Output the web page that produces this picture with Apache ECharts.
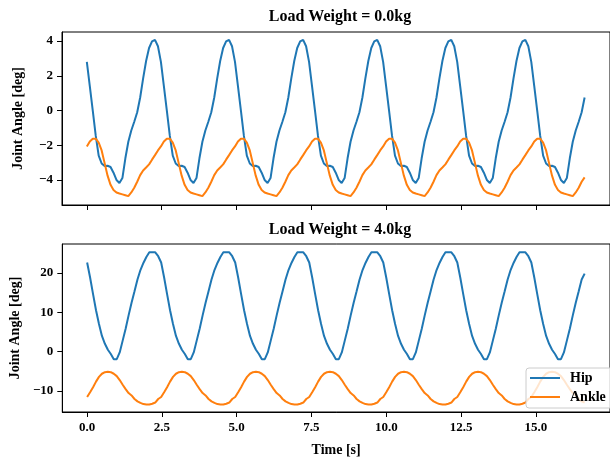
<!DOCTYPE html>
<html>
<head>
<meta charset="utf-8">
<script src="https://cdn.jsdelivr.net/npm/echarts@6/dist/echarts.min.js"></script>
<style>
  html, body { margin: 0; padding: 0; background: #ffffff; overflow: hidden; }
  #chart { width: 610px; height: 458px; }
</style>
</head>
<body>
<div id="chart"></div>
<script>
// Joint angles over time for two load conditions, sampled every SAMPLE_DT seconds.
const SAMPLE_DT = 0.099;

const HIP_0KG = [
  2.80, 1.40, 0.00, -1.45, -2.60, -3.05, -3.20, -3.18, -3.25, -3.58, -4.00, -4.17, -3.89, -2.75, -1.80, -1.15, -0.65, -0.10, 0.75, 1.85, 2.85, 3.60, 3.98, 4.07, 3.70,
  2.80, 1.40, 0.00, -1.45, -2.60, -3.05, -3.20, -3.18, -3.25, -3.58, -4.00, -4.17, -3.89, -2.75, -1.80, -1.15, -0.65, -0.10, 0.75, 1.85, 2.85, 3.60, 3.98, 4.07, 3.70,
  2.80, 1.40, 0.00, -1.45, -2.60, -3.05, -3.20, -3.18, -3.25, -3.58, -4.00, -4.17, -3.89, -2.75, -1.80, -1.15, -0.65, -0.10, 0.75, 1.85, 2.85, 3.60, 3.98, 4.07, 3.70,
  2.80, 1.40, 0.00, -1.45, -2.60, -3.05, -3.20, -3.18, -3.25, -3.58, -4.00, -4.17, -3.89, -2.75, -1.80, -1.15, -0.65, -0.10, 0.75, 1.85, 2.85, 3.60, 3.98, 4.07, 3.70,
  2.80, 1.40, 0.00, -1.45, -2.60, -3.05, -3.20, -3.18, -3.25, -3.58, -4.00, -4.17, -3.89, -2.75, -1.80, -1.15, -0.65, -0.10, 0.75, 1.85, 2.85, 3.60, 3.98, 4.07, 3.70,
  2.80, 1.40, 0.00, -1.45, -2.60, -3.05, -3.20, -3.18, -3.25, -3.58, -4.00, -4.17, -3.89, -2.75, -1.80, -1.15, -0.65, -0.10, 0.75, 1.85, 2.85, 3.60, 3.98, 4.07, 3.70,
  2.80, 1.40, 0.00, -1.45, -2.60, -3.05, -3.20, -3.18, -3.25, -3.58, -4.00, -4.17, -3.89, -2.75, -1.80, -1.15, -0.65, -0.10, 0.75
];

const ANKLE_0KG = [
  -2.07, -1.78, -1.62, -1.62, -1.85, -2.30, -3.03, -3.75, -4.28, -4.58, -4.72, -4.78, -4.83, -4.88, -4.93, -4.72, -4.45, -4.10, -3.72, -3.45, -3.28, -3.10, -2.83, -2.57, -2.30,
  -2.07, -1.78, -1.62, -1.62, -1.85, -2.30, -3.03, -3.75, -4.28, -4.58, -4.72, -4.78, -4.83, -4.88, -4.93, -4.72, -4.45, -4.10, -3.72, -3.45, -3.28, -3.10, -2.83, -2.57, -2.30,
  -2.07, -1.78, -1.62, -1.62, -1.85, -2.30, -3.03, -3.75, -4.28, -4.58, -4.72, -4.78, -4.83, -4.88, -4.93, -4.72, -4.45, -4.10, -3.72, -3.45, -3.28, -3.10, -2.83, -2.57, -2.30,
  -2.07, -1.78, -1.62, -1.62, -1.85, -2.30, -3.03, -3.75, -4.28, -4.58, -4.72, -4.78, -4.83, -4.88, -4.93, -4.72, -4.45, -4.10, -3.72, -3.45, -3.28, -3.10, -2.83, -2.57, -2.30,
  -2.07, -1.78, -1.62, -1.62, -1.85, -2.30, -3.03, -3.75, -4.28, -4.58, -4.72, -4.78, -4.83, -4.88, -4.93, -4.72, -4.45, -4.10, -3.72, -3.45, -3.28, -3.10, -2.83, -2.57, -2.30,
  -2.07, -1.78, -1.62, -1.62, -1.85, -2.30, -3.03, -3.75, -4.28, -4.58, -4.72, -4.78, -4.83, -4.88, -4.93, -4.72, -4.45, -4.10, -3.72, -3.45, -3.28, -3.10, -2.83, -2.57, -2.30,
  -2.07, -1.78, -1.62, -1.62, -1.85, -2.30, -3.03, -3.75, -4.28, -4.58, -4.72, -4.78, -4.83, -4.88, -4.93, -4.72, -4.45, -4.10, -3.85
];

const HIP_4KG = [
  22.6, 18.8, 14.6, 10.5, 7.0, 4.0, 2.0, 0.5, -0.6, -1.9, -1.9, -0.2, 2.8, 5.8, 9.2, 12.4, 15.3, 18.3, 20.7, 22.5, 24.0, 25.2, 25.2, 25.2, 24.2,
  22.6, 18.8, 14.6, 10.5, 7.0, 4.0, 2.0, 0.5, -0.6, -1.9, -1.9, -0.2, 2.8, 5.8, 9.2, 12.4, 15.3, 18.3, 20.7, 22.5, 24.0, 25.2, 25.2, 25.2, 24.2,
  22.6, 18.8, 14.6, 10.5, 7.0, 4.0, 2.0, 0.5, -0.6, -1.9, -1.9, -0.2, 2.8, 5.8, 9.2, 12.4, 15.3, 18.3, 20.7, 22.5, 24.0, 25.2, 25.2, 25.2, 24.2,
  22.6, 18.8, 14.6, 10.5, 7.0, 4.0, 2.0, 0.5, -0.6, -1.9, -1.9, -0.2, 2.8, 5.8, 9.2, 12.4, 15.3, 18.3, 20.7, 22.5, 24.0, 25.2, 25.2, 25.2, 24.2,
  22.6, 18.8, 14.6, 10.5, 7.0, 4.0, 2.0, 0.5, -0.6, -1.9, -1.9, -0.2, 2.8, 5.8, 9.2, 12.4, 15.3, 18.3, 20.7, 22.5, 24.0, 25.2, 25.2, 25.2, 24.2,
  22.6, 18.8, 14.6, 10.5, 7.0, 4.0, 2.0, 0.5, -0.6, -1.9, -1.9, -0.2, 2.8, 5.8, 9.2, 12.4, 15.3, 18.3, 20.7, 22.5, 24.0, 25.2, 25.2, 25.2, 24.2,
  22.6, 18.8, 14.6, 10.5, 7.0, 4.0, 2.0, 0.5, -0.6, -1.9, -1.9, -0.2, 2.8, 5.8, 9.2, 12.4, 15.3, 18.3, 19.8
];

const ANKLE_4KG = [
  -11.5, -10.3, -9.0, -7.6, -6.4, -5.6, -5.2, -5.1, -5.2, -5.6, -6.2, -7.2, -8.4, -9.5, -10.5, -11.1, -12.0, -12.6, -13.0, -13.3, -13.4, -13.4, -13.2, -12.9, -12.0,
  -11.5, -10.3, -9.0, -7.6, -6.4, -5.6, -5.2, -5.1, -5.2, -5.6, -6.2, -7.2, -8.4, -9.5, -10.5, -11.1, -12.0, -12.6, -13.0, -13.3, -13.4, -13.4, -13.2, -12.9, -12.0,
  -11.5, -10.3, -9.0, -7.6, -6.4, -5.6, -5.2, -5.1, -5.2, -5.6, -6.2, -7.2, -8.4, -9.5, -10.5, -11.1, -12.0, -12.6, -13.0, -13.3, -13.4, -13.4, -13.2, -12.9, -12.0,
  -11.5, -10.3, -9.0, -7.6, -6.4, -5.6, -5.2, -5.1, -5.2, -5.6, -6.2, -7.2, -8.4, -9.5, -10.5, -11.1, -12.0, -12.6, -13.0, -13.3, -13.4, -13.4, -13.2, -12.9, -12.0,
  -11.5, -10.3, -9.0, -7.6, -6.4, -5.6, -5.2, -5.1, -5.2, -5.6, -6.2, -7.2, -8.4, -9.5, -10.5, -11.1, -12.0, -12.6, -13.0, -13.3, -13.4, -13.4, -13.2, -12.9, -12.0,
  -11.5, -10.3, -9.0, -7.6, -6.4, -5.6, -5.2, -5.1, -5.2, -5.6, -6.2, -7.2, -8.4, -9.5, -10.5, -11.1, -12.0, -12.6, -13.0, -13.3, -13.4, -13.4, -13.2, -12.9, -12.0,
  -11.5, -10.3, -9.0, -7.6, -6.4, -5.6, -5.2, -5.1, -5.2, -5.6, -6.2, -7.2, -8.4, -9.5, -10.5, -11.1, -12.0, -12.6, -12.9
];

const TITLES = ['Load Weight = 0.0kg', 'Load Weight = 4.0kg'];
const SERIES_NAMES = ['Hip', 'Ankle'];
const X_TICKS = [0, 2.5, 5, 7.5, 10, 12.5, 15];
const Y_TICKS_0KG = [-4, -2, 0, 2, 4];
const Y_TICKS_4KG = [-10, 0, 10, 20];

const TIME = HIP_0KG.map((_, i) => +(i * SAMPLE_DT).toFixed(3));
const pairs = (vals) => vals.map((v, i) => [TIME[i], v]);

const FONT = '"Liberation Serif", "Times New Roman", serif';
const BLUE = '#1f77b4';
const ORANGE = '#ff7f0e';
const minus = (v) => String(v).replace('-', '\u2212');

function xAxis(gridIndex, withLabels) {
  return {
    type: 'value', gridIndex, min: -0.83, max: 17.48,
    splitLine: { show: false },
    axisLine: { show: true, onZero: false, lineStyle: { color: '#000', width: 1 } },
    axisTick: { show: true, length: 5, lineStyle: { color: '#000', width: 1 }, customValues: X_TICKS },
    axisLabel: {
      show: withLabels, customValues: X_TICKS, margin: 9,
      fontFamily: FONT, fontWeight: 'bold', fontSize: 13, color: '#000',
      formatter: (v) => v.toFixed(1)
    },
    name: withLabels ? 'Time [s]' : '',
    nameLocation: 'middle', nameGap: 31,
    nameTextStyle: { fontFamily: FONT, fontWeight: 'bold', fontSize: 14, color: '#000' }
  };
}

function yAxis(gridIndex, min, max, ticks) {
  return {
    type: 'value', gridIndex, min, max,
    splitLine: { show: false },
    axisLine: { show: true, onZero: false, lineStyle: { color: '#000', width: 1 } },
    axisTick: { show: true, length: 5, lineStyle: { color: '#000', width: 1 }, customValues: ticks },
    axisLabel: {
      customValues: ticks, margin: 9,
      fontFamily: FONT, fontWeight: 'bold', fontSize: 13, color: '#000',
      formatter: (v) => minus(v)
    },
    name: 'Joint Angle [deg]',
    nameLocation: 'middle', nameGap: 37,
    nameTextStyle: { fontFamily: FONT, fontWeight: 'bold', fontSize: 14, color: '#000' }
  };
}

function line(name, color, xi, data) {
  return {
    type: 'line', name, xAxisIndex: xi, yAxisIndex: xi, data,
    showSymbol: false, symbol: 'none', animation: false,
    lineStyle: { color, width: 2 }, itemStyle: { color }
  };
}

const chart = echarts.init(document.getElementById('chart'), null, { renderer: 'canvas' });
chart.setOption({
  animation: false,
  backgroundColor: '#ffffff',
  title: [
    { text: TITLES[0], left: 340, top: 9, textAlign: 'center', padding: 0,
      textStyle: { fontFamily: FONT, fontWeight: 'bold', fontSize: 16, color: '#000' } },
    { text: TITLES[1], left: 340, top: 222, textAlign: 'center', padding: 0,
      textStyle: { fontFamily: FONT, fontWeight: 'bold', fontSize: 16, color: '#000' } }
  ],
  grid: [
    { left: 62, top: 32, width: 556, height: 173, show: true, borderColor: '#000', borderWidth: 1, backgroundColor: 'transparent' },
    { left: 62, top: 244, width: 556, height: 174, show: true, borderColor: '#000', borderWidth: 1, backgroundColor: 'transparent' }
  ],
  xAxis: [xAxis(0, false), xAxis(1, true)],
  yAxis: [yAxis(0, -5.44, 4.52, Y_TICKS_0KG), yAxis(1, -15.3, 27.3, Y_TICKS_4KG)],
  legend: {
    data: SERIES_NAMES,
    orient: 'vertical', left: 526, top: 368,
    padding: [3, 8, 4, 4], itemGap: 5, itemWidth: 30, itemHeight: 2,
    icon: 'rect',
    backgroundColor: 'rgba(255,255,255,0.8)', borderColor: '#cccccc', borderWidth: 1, borderRadius: 3,
    textStyle: { fontFamily: FONT, fontWeight: 'bold', fontSize: 14, color: '#000', padding: [0, 0, 0, 5] }
  },
  series: [
    line(SERIES_NAMES[0], BLUE, 0, pairs(HIP_0KG)),
    line(SERIES_NAMES[1], ORANGE, 0, pairs(ANKLE_0KG)),
    line(SERIES_NAMES[0], BLUE, 1, pairs(HIP_4KG)),
    line(SERIES_NAMES[1], ORANGE, 1, pairs(ANKLE_4KG))
  ]
});
</script>
</body>
</html>
